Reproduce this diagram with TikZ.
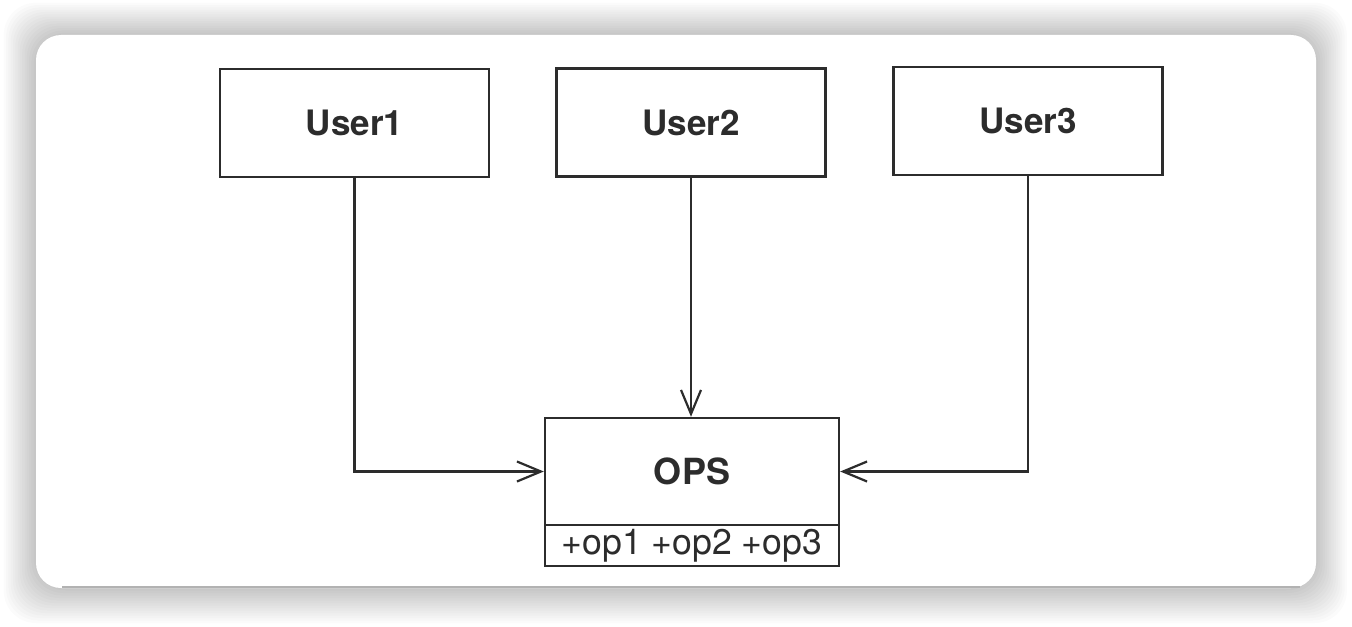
\documentclass[tikz,border=0pt]{standalone}
\usepackage{fontspec}
\setmainfont{TeX Gyre Heros}
\usetikzlibrary{arrows.meta}
\definecolor{ink}{HTML}{2c2c2c}
\begin{document}
\begin{tikzpicture}[x=0.5pt,y=-0.5pt,
  box/.style={draw=ink,line width=1.2pt,inner sep=0pt,text=ink},
  userbox/.style={box,minimum width=134.5pt,minimum height=54pt,font=\fontsize{17.5}{19}\selectfont\bfseries},
  arr/.style={draw=ink,line width=1.1pt,-{Straight Barb[length=12pt,width=10pt,line width=1.1pt]}}]
\useasboundingbox (0,0) rectangle (1352,626);
\fill[white] (0,0) rectangle (1352,626);
\foreach \i in {1,...,14}
  \fill[black,opacity=0.016,rounded corners=16pt] ({36-\i*2.3},{35-\i*2.3}) rectangle ({1316+\i*2.2},{588+\i*2.5});
\fill[white,rounded corners=12.5pt] (36,35) rectangle (1316,588);
\draw[gray!60,line width=0.8pt] (62,587) -- (1300,587);

\node[userbox] (u1) at (354.5,123) {User1};
\node[userbox] (u2) at (691,122.5) {User2};
\node[userbox] (u3) at (1028,121) {User3};
\node[box,minimum width=147pt,minimum height=53.5pt,font=\fontsize{18}{20}\selectfont\bfseries] (ops) at (692,471.5) {OPS};
\node[box,minimum width=147pt,minimum height=20.5pt,font=\fontsize{17.8}{19}\selectfont] (opsb) at (692,545.5) {+op1 +op2 +op3};

\draw[arr] (u1.south) |- (ops.west);
\draw[arr] (u2.south) -- (u2.south |- ops.north);
\draw[arr] (u3.south) |- (ops.east);
\end{tikzpicture}
\end{document}
